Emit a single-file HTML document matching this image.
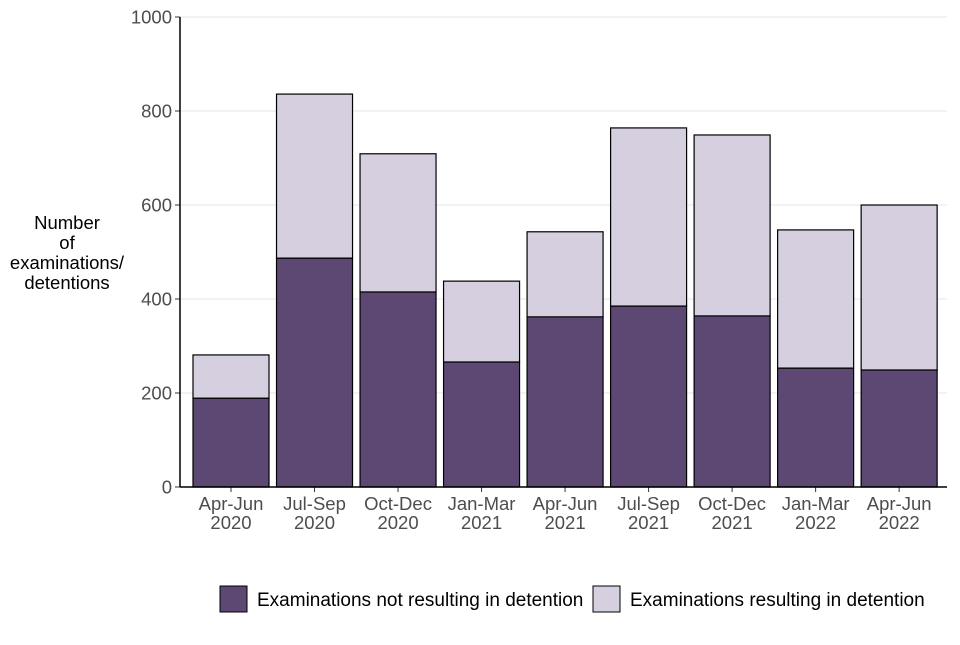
<!DOCTYPE html>
<html><head><meta charset="utf-8"><style>
body{margin:0;background:#fff;}
svg text{font-family:"Liberation Sans",Arial,sans-serif;}
</style></head><body>
<svg id="chart" width="960" height="640" xmlns="http://www.w3.org/2000/svg">
<g id="grid"></g><g id="bars"></g><g id="axes"></g>
<text font-size="18.5" fill="#000" text-anchor="middle">
<tspan x="67" y="229">Number</tspan><tspan x="67" y="249">of</tspan><tspan x="67" y="269">examinations/</tspan><tspan x="67" y="289">detentions</tspan></text>
<g>
<rect x="220" y="586" width="27" height="26" fill="#5c4873" stroke="#000"/>
<text x="257" y="606" font-size="19" fill="#000">Examinations not resulting in detention</text>
<rect x="593" y="586" width="27" height="26" fill="#d6cfe0" stroke="#000"/>
<text x="630" y="606" font-size="19" fill="#000">Examinations resulting in detention</text>
</g>
</svg>
<script>
const categories=[["Apr-Jun","2020"],["Jul-Sep","2020"],["Oct-Dec","2020"],["Jan-Mar","2021"],["Apr-Jun","2021"],["Jul-Sep","2021"],["Oct-Dec","2021"],["Jan-Mar","2022"],["Apr-Jun","2022"]];
const notDetained=[189,487,415,266,362,385,364,253,249];
const detained=[92,349,294,172,181,379,385,294,351];
const yTicks=[0,200,400,600,800,1000];
const NS="http://www.w3.org/2000/svg";
const y0=487,y1=17,yMax=1000,xL=180,xR=947;
const y=v=>y0-(v/yMax)*(y0-y1);
const band=(xR-xL)/categories.length*0.98;
const x=i=>231+i*(band);
const bw=76;
function mk(tag,attrs,parent){const e=document.createElementNS(NS,tag);for(const k in attrs)e.setAttribute(k,attrs[k]);document.getElementById(parent).appendChild(e);return e;}
yTicks.forEach(t=>{
 const g=mk('line',{x1:xL,x2:xR,y1:y(t),y2:y(t),stroke:'#e5e5e5','stroke-width':1},'grid');
 
 
 const tk=mk('line',{x1:xL-5,x2:xL,y1:y(t),y2:y(t),stroke:'#333'},'axes');
 
 
 const l=mk('text',{x:xL-8,y:y(t)+6.5,'text-anchor':'end','font-size':18.5,fill:'#4d4d4d'},'axes');
 l.textContent=t;
 
 
});
categories.forEach((c,i)=>{
 const cx=x(i);
 const b1=mk('rect',{x:cx-bw/2,y:y(notDetained[i]),width:bw,height:y(0)-y(notDetained[i]),fill:'#5c4873',stroke:'#000','stroke-width':1.2},'bars');
 
 
 const tot=notDetained[i]+detained[i];
 const b2=mk('rect',{x:cx-bw/2,y:y(tot),width:bw,height:y(notDetained[i])-y(tot),fill:'#d6cfe0',stroke:'#000','stroke-width':1.2},'bars');
 
 
 const tk=mk('line',{x1:cx,x2:cx,y1:y0,y2:y0+5,stroke:'#333'},'axes');
 
 
 const l=mk('text',{x:cx,y:y0+23,'text-anchor':'middle','font-size':18.5,fill:'#4d4d4d'},'axes');
 
 
 c.forEach((s,j)=>{const t=document.createElementNS(NS,'tspan');t.setAttribute('x',cx);t.setAttribute('dy',j?19:0);t.textContent=s;l.appendChild(t);});
});
const ax=mk('line',{x1:xL,x2:xL,y1:y1,y2:y0,stroke:'#000','stroke-width':1.5},'axes');


const axx=mk('line',{x1:xL,x2:xR,y1:y0,y2:y0,stroke:'#000','stroke-width':1.5},'axes');


</script>
</body></html>
